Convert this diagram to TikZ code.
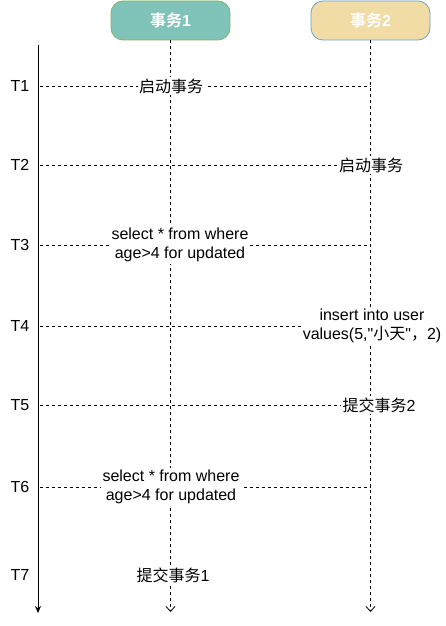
\documentclass[tikz,border=0pt]{standalone}
\usepackage{fontspec}
\setmainfont{Liberation Sans}
\newfontfamily\cjk{Noto Sans CJK SC}[BoldFont={* Bold}]
\newfontfamily\rawquote{Liberation Sans}[Ligatures=ResetAll]
\usetikzlibrary{arrows.meta}
\definecolor{tealfill}{RGB}{128,196,185}
\definecolor{tealline}{RGB}{130,179,102}
\definecolor{sandfill}{RGB}{242,220,166}
\definecolor{sandline}{RGB}{110,160,200}
\newcommand{\sq}{{\rawquote\symbol{34}}}
\tikzset{seqdiag/.style={x=1pt,y=-1pt,font=\fontsize{16}{19.5}\selectfont}}
\tikzset{txbox/.style={rounded corners=12pt,minimum width=119pt,minimum height=39pt,
                       line width=0.8pt,text=white,font=\fontsize{16}{19.5}\selectfont\bfseries},
         lifeline/.style={line width=0.8pt,dash pattern=on 3pt off 3pt,-{Straight Barb[length=5pt,width=9pt]}},
         msgline/.style={line width=0.8pt,dash pattern=on 3pt off 3pt},
         msglabel/.style={fill=white,inner sep=1.5pt,align=center}}

\begin{document}
\begin{tikzpicture}[seqdiag]
    \useasboundingbox (0,0) rectangle (446,626);
    % transactions
    \node[txbox,fill=tealfill,draw=tealline] (tx1) at (170.5,20.5) {{\cjk 事务}1};
    \node[txbox,fill=sandfill,draw=sandline] (tx2) at (370.5,20.5) {{\cjk 事务}2};
    \coordinate (end1) at (170.5,612);
    \coordinate (end2) at (370.5,612);
    % time axis
    \coordinate (axtop) at (38,45);
    \coordinate (axbot) at (38,613);
    \draw[line width=0.8pt,-{Stealth[length=7pt,width=6pt]}] (axtop) -- (axbot);
    \foreach \i/\y in {1/86,2/165,3/245,4/326,5/405,6/487,7/575}
      \node (t\i) at (20,\y) {T\i};
    \foreach \i/\y in {1/86,2/165,3/245,4/326,5/405,6/487} {
      \coordinate (s\i) at (40,\y);
      \coordinate (e\i) at (370.5,\y);
      \draw[msgline] (s\i) -- (e\i);
    }
    \draw[lifeline] (tx1.south) -- (end1);
    \draw[lifeline] (tx2.south) -- (end2);
    % steps
    \node[msglabel] (m1) at (171,86) {\cjk 启动事务};
    \node[msglabel] (m2) at (371,165) {\cjk 启动事务};
    \node[msglabel] (m3) at (180,245) {select * from where\\age>4 for updated};
    \node[msglabel] (m4) at (372,326) {insert into user\\values(5,\sq{\cjk 小天}\sq{\cjk ，}2)};
    \node[msglabel] (m5) at (379,405) {{\cjk 提交事务}2};
    \node[msglabel] (m6) at (171,487) {select * from where\\age>4 for updated};
    \node[msglabel] (m7) at (173,575) {{\cjk 提交事务}1};
  \end{tikzpicture}
\end{document}
